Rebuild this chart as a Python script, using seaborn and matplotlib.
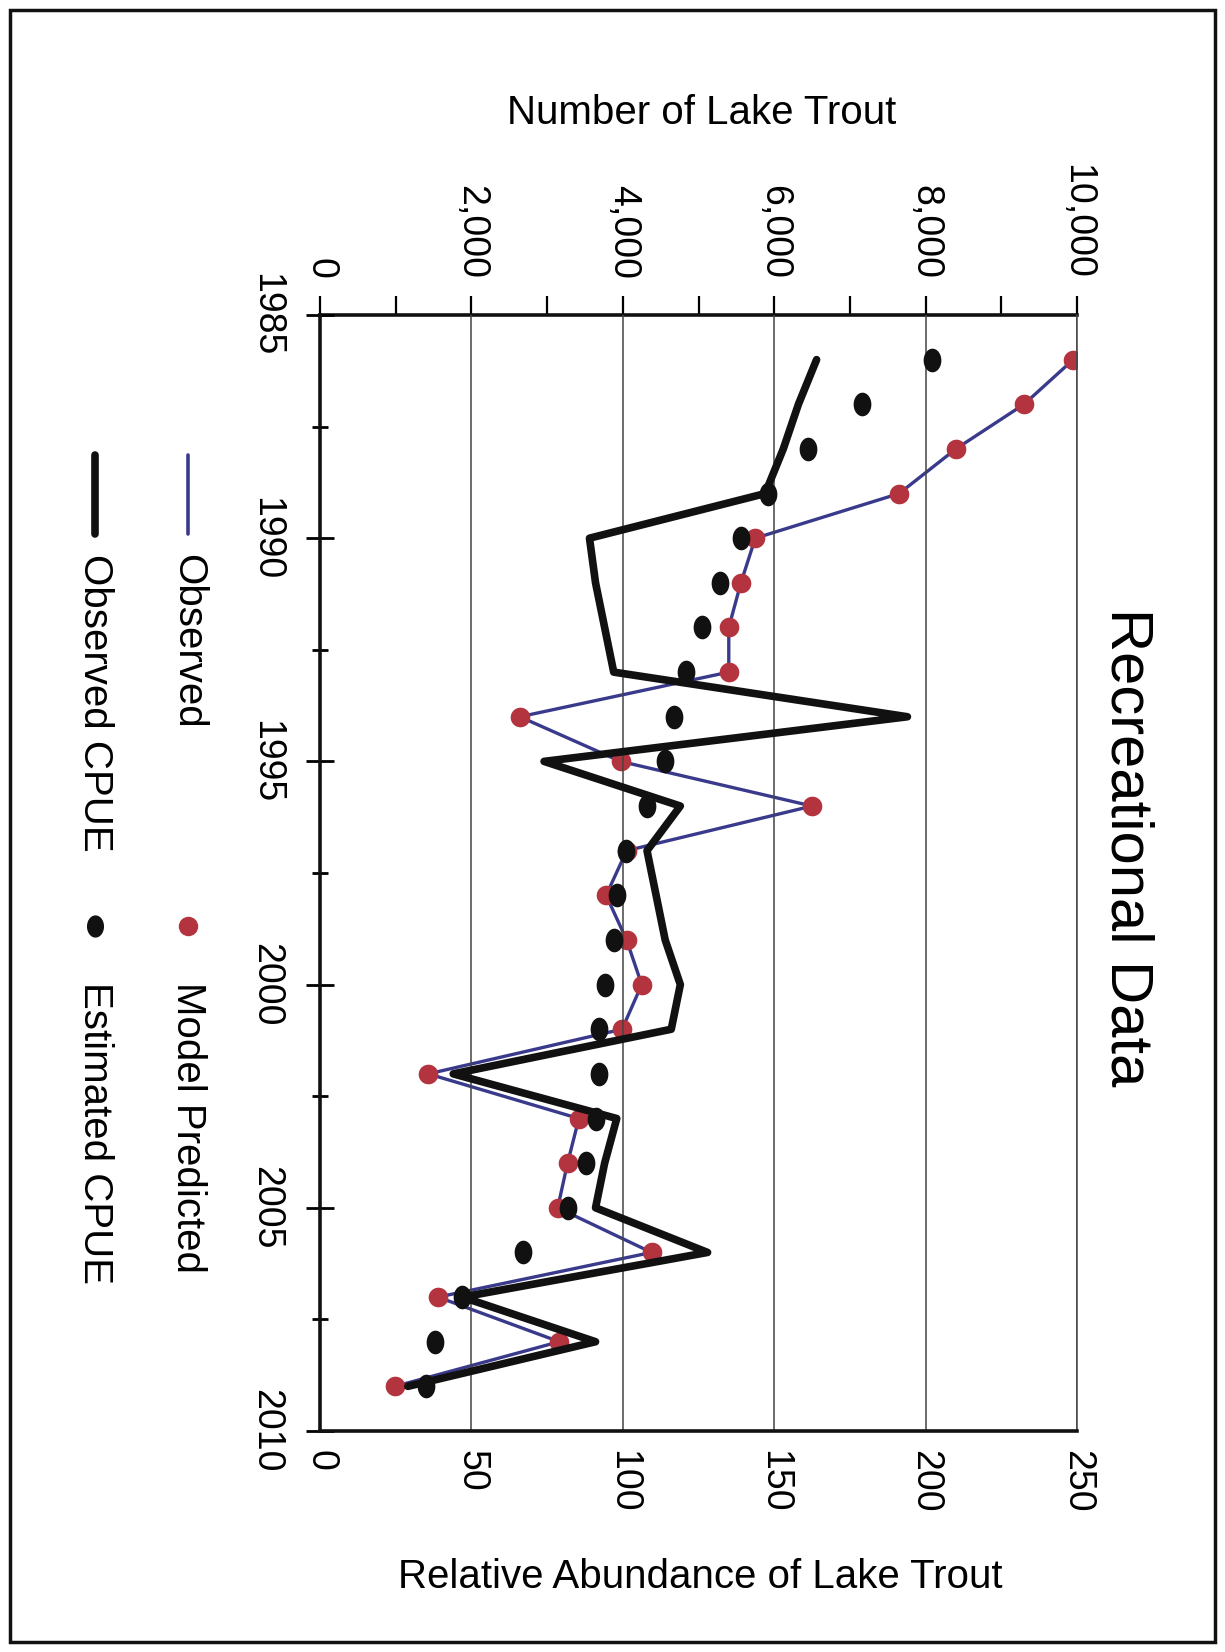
import numpy as np
import pandas as pd
import matplotlib
matplotlib.use('Agg')
import matplotlib.pyplot as plt
import seaborn as sns
from matplotlib.ticker import MultipleLocator
from matplotlib.lines import Line2D
from matplotlib.patches import Rectangle

years = list(range(1986, 2010))
observed_num = [9950, 9300, 8400, 7650, 5750, 5560, 5400, 5400, 2640, 3970, 6500, 4050,
                3780, 4050, 4250, 3990, 1430, 3420, 3270, 3140, 4380, 1560, 3160, 990]
model_pred = [9950, 9300, 8400, 7650, 5750, 5560, 5400, 5400, 2640, 3970, 6500, 4050,
              3780, 4050, 4250, 3990, 1430, 3420, 3270, 3140, 4380, 1560, 3160, 990]
observed_cpue = [164, 158, 153, 147, 89, 91, 94, 97, 194, 74, 119, 108,
                 111, 114, 119, 116, 44, 98, 94, 91, 128, 47, 91, 29]
estimated_cpue = [202, 179, 161, 148, 139, 132, 126, 121, 117, 114, 108, 101,
                  98, 97, 94, 92, 92, 91, 88, 82, 67, 47, 38, 35]

num_ticks = [0, 2000, 4000, 6000, 8000, 10000]
rel_ticks = [0, 50, 100, 150, 200, 250]
year_ticks = [1985, 1990, 1995, 2000, 2005, 2010]

blue = '#3a3a8c'
red = '#b3343f'
black = '#111111'

sns.set_style('white')
plt.rcParams['font.family'] = ['Liberation Sans', 'DejaVu Sans']
plt.rcParams['text.color'] = 'black'
plt.rcParams['xtick.color'] = 'black'
plt.rcParams['ytick.color'] = 'black'

W, H = 1225, 1652
fig = plt.figure(figsize=(W / 100, H / 100), dpi=100)
ax = fig.add_axes([320 / W, 1 - 1431 / H, (1077 - 320) / W, (1431 - 315) / H])
ax2 = ax.twiny()
ax.set_zorder(ax2.get_zorder() + 1)
ax.patch.set_visible(False)

df_num = pd.DataFrame({'year': years, 'observed': observed_num, 'model': model_pred})
df_cpue = pd.DataFrame({'year': years, 'obs': observed_cpue, 'est': estimated_cpue})

# numbers on the top axis
sns.lineplot(data=df_num, x='observed', y='year', orient='y', color=blue, lw=2.4,
             errorbar=None, ax=ax2)
sns.scatterplot(data=df_num, x='model', y='year', color=red, s=200, linewidth=0,
                ax=ax2, zorder=3)

# CPUE on the bottom axis
t = np.linspace(0, 2 * np.pi, 40)
ell = list(zip(0.75 * np.cos(t), np.sin(t)))
sns.lineplot(data=df_cpue, x='obs', y='year', orient='y', color=black, lw=5.5,
             errorbar=None, ax=ax)
sns.scatterplot(data=df_cpue, x='est', y='year', color=black, marker=ell, s=290,
                linewidth=0, ax=ax, zorder=4)

ax.set_xlim(0, 250)
ax2.set_xlim(0, 10000)
ax.set_ylim(2010, 1985)
ax.set_xlabel('')
ax.set_ylabel('')
ax2.set_xlabel('')
ax2.set_ylabel('')

ax.set_xticks(rel_ticks, labels=[str(v) for v in rel_ticks], rotation=-90, ha='center')
ax.set_yticks(year_ticks, labels=[str(v) for v in year_ticks], rotation=-90, va='center')
ax.yaxis.set_minor_locator(MultipleLocator(2.5))
ax2.set_xticks(num_ticks, labels=[f'{v:,}' for v in num_ticks], rotation=-90, ha='center')
ax2.xaxis.set_minor_locator(MultipleLocator(1000))

ax.tick_params(axis='x', bottom=True, length=0, pad=14, labelsize=27)
ax.tick_params(axis='y', which='major', left=True, direction='inout', length=20, width=2,
               pad=16, labelsize=27)
ax.tick_params(axis='y', which='minor', left=True, direction='inout', length=12, width=2)
ax2.tick_params(axis='x', which='both', top=True, direction='out', length=14, width=1.6,
                pad=12, labelsize=27)

ax.grid(axis='x', color='#444444', lw=1.1)
ax.grid(axis='y', visible=False)
ax2.grid(False)

for s in ['left', 'bottom']:
    ax.spines[s].set_linewidth(2.6)
    ax.spines[s].set_color(black)
ax.spines['top'].set_visible(False)
ax.spines['right'].set_linewidth(1.1)
ax.spines['right'].set_color('#444444')
ax2.spines['top'].set_linewidth(2.6)
ax2.spines['top'].set_color(black)
for s in ['left', 'right', 'bottom']:
    ax2.spines[s].set_visible(False)

# axis titles and chart title
fig.text(702 / W, 1 - 113 / H, 'Number of Lake Trout', fontsize=29, ha='center', va='center')
fig.text(700 / W, 1 - 1577 / H, 'Relative Abundance of Lake Trout', fontsize=29,
         ha='center', va='center')
fig.text(1127 / W, 1 - 847 / H, 'Recreational Data', fontsize=43, rotation=-90,
         ha='center', va='center')

# legend, drawn sideways like the rest of the page
fig.add_artist(Line2D([188 / W, 188 / W], [1 - 455 / H, 1 - 534 / H], color=blue, lw=2.6))
fig.add_artist(Line2D([188 / W], [1 - 926 / H], marker='o', ms=13, color=red, lw=0))
fig.add_artist(Line2D([95 / W, 95 / W], [1 - 455 / H, 1 - 534 / H], color=black, lw=5.5))
fig.add_artist(Line2D([95 / W], [1 - 926 / H], marker=ell, ms=15, color=black, lw=0))
for x, y, s in [(188, 554, 'Observed'), (188, 982, 'Model Predicted'),
                (95, 554, 'Observed CPUE'), (95, 982, 'Estimated CPUE')]:
    fig.text(x / W, 1 - y / H, s, fontsize=29, rotation=-90, ha='center', va='top')

fig.patches.append(Rectangle((0.008, 0.006), 0.984, 0.988, transform=fig.transFigure,
                             fill=False, lw=2.5, ec=black))

fig.savefig('out.png', dpi=100, facecolor='white')
